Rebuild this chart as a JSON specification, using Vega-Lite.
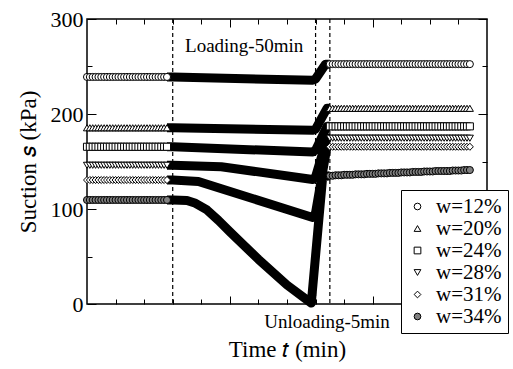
{
"$schema": "https://vega.github.io/schema/vega-lite/v6.json",
"width": 400, "height": 285,
"autosize": {"type": "none"},
"padding": {"left": 87, "top": 19, "right": 26, "bottom": 65},
"background": "white",
"config": {
 "view": {"stroke": "black", "strokeWidth": 1.5},
 "font": "Liberation Serif",
 "axis": {"domain": false, "grid": false, "tickColor": "black", "tickWidth": 1, "labelColor": "black", "titleColor": "black", "titleFontWeight": "normal", "labelFontSize": 22, "titleFontSize": 23}
},
"datasets": {
 "rules": [{"t": 30}, {"t": 80}, {"t": 85}],
 "loading": [
  {"w":"w=12%","t":28,"s":239},{"w":"w=12%","t":30,"s":239},{"w":"w=12%","t":79,"s":235.5},{"w":"w=12%","t":80,"s":237},{"w":"w=12%","t":83.5,"s":252.5},{"w":"w=12%","t":85,"s":252.5},
  {"w":"w=20%","t":28,"s":185.5},{"w":"w=20%","t":30,"s":185.5},{"w":"w=20%","t":79,"s":183},{"w":"w=20%","t":80,"s":184},{"w":"w=20%","t":84,"s":206},{"w":"w=20%","t":85,"s":206},
  {"w":"w=24%","t":28,"s":165.5},{"w":"w=24%","t":30,"s":165.5},{"w":"w=24%","t":79,"s":160},{"w":"w=24%","t":80,"s":162},{"w":"w=24%","t":84,"s":187},{"w":"w=24%","t":85,"s":187},
  {"w":"w=28%","t":28,"s":146},{"w":"w=28%","t":30,"s":146},{"w":"w=28%","t":47,"s":144.5},{"w":"w=28%","t":79,"s":131},{"w":"w=28%","t":80,"s":134},{"w":"w=28%","t":84,"s":174.5},{"w":"w=28%","t":85,"s":174.5},
  {"w":"w=31%","t":28,"s":130.5},{"w":"w=31%","t":30,"s":130.5},{"w":"w=31%","t":39,"s":129},{"w":"w=31%","t":79,"s":91},{"w":"w=31%","t":80,"s":96},{"w":"w=31%","t":84,"s":165.5},{"w":"w=31%","t":85,"s":165.5},
  {"w":"w=34%","t":28,"s":109.5},{"w":"w=34%","t":30,"s":109.5},{"w":"w=34%","t":35,"s":109},{"w":"w=34%","t":38,"s":106},{"w":"w=34%","t":42,"s":99},{"w":"w=34%","t":46,"s":88},{"w":"w=34%","t":50,"s":76},{"w":"w=34%","t":60,"s":47},{"w":"w=34%","t":70,"s":20},{"w":"w=34%","t":78.5,"s":1},{"w":"w=34%","t":82.5,"s":134},{"w":"w=34%","t":85,"s":135}
 ],
 "markers": [
  {"w":"w=12%","t":0,"s":239},{"w":"w=12%","t":1,"s":239},{"w":"w=12%","t":2,"s":239},{"w":"w=12%","t":3,"s":239},{"w":"w=12%","t":4,"s":239},{"w":"w=12%","t":5,"s":239},{"w":"w=12%","t":6,"s":239},{"w":"w=12%","t":7,"s":239},{"w":"w=12%","t":8,"s":239},{"w":"w=12%","t":9,"s":239},{"w":"w=12%","t":10,"s":239},{"w":"w=12%","t":11,"s":239},{"w":"w=12%","t":12,"s":239},{"w":"w=12%","t":13,"s":239},{"w":"w=12%","t":14,"s":239},{"w":"w=12%","t":15,"s":239},{"w":"w=12%","t":16,"s":239},{"w":"w=12%","t":17,"s":239},{"w":"w=12%","t":18,"s":239},{"w":"w=12%","t":19,"s":239},{"w":"w=12%","t":20,"s":239},{"w":"w=12%","t":21,"s":239},{"w":"w=12%","t":22,"s":239},{"w":"w=12%","t":23,"s":239},{"w":"w=12%","t":24,"s":239},{"w":"w=12%","t":25,"s":239},{"w":"w=12%","t":26,"s":239},{"w":"w=12%","t":27,"s":239},{"w":"w=12%","t":28,"s":239},
  {"w":"w=20%","t":0,"s":185.5},{"w":"w=20%","t":1,"s":185.5},{"w":"w=20%","t":2,"s":185.5},{"w":"w=20%","t":3,"s":185.5},{"w":"w=20%","t":4,"s":185.5},{"w":"w=20%","t":5,"s":185.5},{"w":"w=20%","t":6,"s":185.5},{"w":"w=20%","t":7,"s":185.5},{"w":"w=20%","t":8,"s":185.5},{"w":"w=20%","t":9,"s":185.5},{"w":"w=20%","t":10,"s":185.5},{"w":"w=20%","t":11,"s":185.5},{"w":"w=20%","t":12,"s":185.5},{"w":"w=20%","t":13,"s":185.5},{"w":"w=20%","t":14,"s":185.5},{"w":"w=20%","t":15,"s":185.5},{"w":"w=20%","t":16,"s":185.5},{"w":"w=20%","t":17,"s":185.5},{"w":"w=20%","t":18,"s":185.5},{"w":"w=20%","t":19,"s":185.5},{"w":"w=20%","t":20,"s":185.5},{"w":"w=20%","t":21,"s":185.5},{"w":"w=20%","t":22,"s":185.5},{"w":"w=20%","t":23,"s":185.5},{"w":"w=20%","t":24,"s":185.5},{"w":"w=20%","t":25,"s":185.5},{"w":"w=20%","t":26,"s":185.5},{"w":"w=20%","t":27,"s":185.5},{"w":"w=20%","t":28,"s":185.5},
  {"w":"w=24%","t":0,"s":165.5},{"w":"w=24%","t":1,"s":165.5},{"w":"w=24%","t":2,"s":165.5},{"w":"w=24%","t":3,"s":165.5},{"w":"w=24%","t":4,"s":165.5},{"w":"w=24%","t":5,"s":165.5},{"w":"w=24%","t":6,"s":165.5},{"w":"w=24%","t":7,"s":165.5},{"w":"w=24%","t":8,"s":165.5},{"w":"w=24%","t":9,"s":165.5},{"w":"w=24%","t":10,"s":165.5},{"w":"w=24%","t":11,"s":165.5},{"w":"w=24%","t":12,"s":165.5},{"w":"w=24%","t":13,"s":165.5},{"w":"w=24%","t":14,"s":165.5},{"w":"w=24%","t":15,"s":165.5},{"w":"w=24%","t":16,"s":165.5},{"w":"w=24%","t":17,"s":165.5},{"w":"w=24%","t":18,"s":165.5},{"w":"w=24%","t":19,"s":165.5},{"w":"w=24%","t":20,"s":165.5},{"w":"w=24%","t":21,"s":165.5},{"w":"w=24%","t":22,"s":165.5},{"w":"w=24%","t":23,"s":165.5},{"w":"w=24%","t":24,"s":165.5},{"w":"w=24%","t":25,"s":165.5},{"w":"w=24%","t":26,"s":165.5},{"w":"w=24%","t":27,"s":165.5},{"w":"w=24%","t":28,"s":165.5},
  {"w":"w=28%","t":0,"s":146},{"w":"w=28%","t":1,"s":146},{"w":"w=28%","t":2,"s":146},{"w":"w=28%","t":3,"s":146},{"w":"w=28%","t":4,"s":146},{"w":"w=28%","t":5,"s":146},{"w":"w=28%","t":6,"s":146},{"w":"w=28%","t":7,"s":146},{"w":"w=28%","t":8,"s":146},{"w":"w=28%","t":9,"s":146},{"w":"w=28%","t":10,"s":146},{"w":"w=28%","t":11,"s":146},{"w":"w=28%","t":12,"s":146},{"w":"w=28%","t":13,"s":146},{"w":"w=28%","t":14,"s":146},{"w":"w=28%","t":15,"s":146},{"w":"w=28%","t":16,"s":146},{"w":"w=28%","t":17,"s":146},{"w":"w=28%","t":18,"s":146},{"w":"w=28%","t":19,"s":146},{"w":"w=28%","t":20,"s":146},{"w":"w=28%","t":21,"s":146},{"w":"w=28%","t":22,"s":146},{"w":"w=28%","t":23,"s":146},{"w":"w=28%","t":24,"s":146},{"w":"w=28%","t":25,"s":146},{"w":"w=28%","t":26,"s":146},{"w":"w=28%","t":27,"s":146},{"w":"w=28%","t":28,"s":146},
  {"w":"w=31%","t":0,"s":130.5},{"w":"w=31%","t":1,"s":130.5},{"w":"w=31%","t":2,"s":130.5},{"w":"w=31%","t":3,"s":130.5},{"w":"w=31%","t":4,"s":130.5},{"w":"w=31%","t":5,"s":130.5},{"w":"w=31%","t":6,"s":130.5},{"w":"w=31%","t":7,"s":130.5},{"w":"w=31%","t":8,"s":130.5},{"w":"w=31%","t":9,"s":130.5},{"w":"w=31%","t":10,"s":130.5},{"w":"w=31%","t":11,"s":130.5},{"w":"w=31%","t":12,"s":130.5},{"w":"w=31%","t":13,"s":130.5},{"w":"w=31%","t":14,"s":130.5},{"w":"w=31%","t":15,"s":130.5},{"w":"w=31%","t":16,"s":130.5},{"w":"w=31%","t":17,"s":130.5},{"w":"w=31%","t":18,"s":130.5},{"w":"w=31%","t":19,"s":130.5},{"w":"w=31%","t":20,"s":130.5},{"w":"w=31%","t":21,"s":130.5},{"w":"w=31%","t":22,"s":130.5},{"w":"w=31%","t":23,"s":130.5},{"w":"w=31%","t":24,"s":130.5},{"w":"w=31%","t":25,"s":130.5},{"w":"w=31%","t":26,"s":130.5},{"w":"w=31%","t":27,"s":130.5},{"w":"w=31%","t":28,"s":130.5},
  {"w":"w=34%","t":0,"s":109.5},{"w":"w=34%","t":1,"s":109.5},{"w":"w=34%","t":2,"s":109.5},{"w":"w=34%","t":3,"s":109.5},{"w":"w=34%","t":4,"s":109.5},{"w":"w=34%","t":5,"s":109.5},{"w":"w=34%","t":6,"s":109.5},{"w":"w=34%","t":7,"s":109.5},{"w":"w=34%","t":8,"s":109.5},{"w":"w=34%","t":9,"s":109.5},{"w":"w=34%","t":10,"s":109.5},{"w":"w=34%","t":11,"s":109.5},{"w":"w=34%","t":12,"s":109.5},{"w":"w=34%","t":13,"s":109.5},{"w":"w=34%","t":14,"s":109.5},{"w":"w=34%","t":15,"s":109.5},{"w":"w=34%","t":16,"s":109.5},{"w":"w=34%","t":17,"s":109.5},{"w":"w=34%","t":18,"s":109.5},{"w":"w=34%","t":19,"s":109.5},{"w":"w=34%","t":20,"s":109.5},{"w":"w=34%","t":21,"s":109.5},{"w":"w=34%","t":22,"s":109.5},{"w":"w=34%","t":23,"s":109.5},{"w":"w=34%","t":24,"s":109.5},{"w":"w=34%","t":25,"s":109.5},{"w":"w=34%","t":26,"s":109.5},{"w":"w=34%","t":27,"s":109.5},{"w":"w=34%","t":28,"s":109.5},
  {"w":"w=12%","t":85,"s":252.5},{"w":"w=12%","t":86,"s":252.5},{"w":"w=12%","t":87,"s":252.5},{"w":"w=12%","t":88,"s":252.5},{"w":"w=12%","t":89,"s":252.5},{"w":"w=12%","t":90,"s":252.5},{"w":"w=12%","t":91,"s":252.5},{"w":"w=12%","t":92,"s":252.5},{"w":"w=12%","t":93,"s":252.5},{"w":"w=12%","t":94,"s":252.5},{"w":"w=12%","t":95,"s":252.5},{"w":"w=12%","t":96,"s":252.5},{"w":"w=12%","t":97,"s":252.5},{"w":"w=12%","t":98,"s":252.5},{"w":"w=12%","t":99,"s":252.5},{"w":"w=12%","t":100,"s":252.5},{"w":"w=12%","t":101,"s":252.5},{"w":"w=12%","t":102,"s":252.5},{"w":"w=12%","t":103,"s":252.5},{"w":"w=12%","t":104,"s":252.5},{"w":"w=12%","t":105,"s":252.5},{"w":"w=12%","t":106,"s":252.5},{"w":"w=12%","t":107,"s":252.5},{"w":"w=12%","t":108,"s":252.5},{"w":"w=12%","t":109,"s":252.5},{"w":"w=12%","t":110,"s":252.5},{"w":"w=12%","t":111,"s":252.5},{"w":"w=12%","t":112,"s":252.5},{"w":"w=12%","t":113,"s":252.5},{"w":"w=12%","t":114,"s":252.5},{"w":"w=12%","t":115,"s":252.5},{"w":"w=12%","t":116,"s":252.5},{"w":"w=12%","t":117,"s":252.5},{"w":"w=12%","t":118,"s":252.5},{"w":"w=12%","t":119,"s":252.5},{"w":"w=12%","t":120,"s":252.5},{"w":"w=12%","t":121,"s":252.5},{"w":"w=12%","t":122,"s":252.5},{"w":"w=12%","t":123,"s":252.5},{"w":"w=12%","t":124,"s":252.5},{"w":"w=12%","t":125,"s":252.5},{"w":"w=12%","t":126,"s":252.5},{"w":"w=12%","t":127,"s":252.5},{"w":"w=12%","t":128,"s":252.5},{"w":"w=12%","t":129,"s":252.5},{"w":"w=12%","t":130,"s":252.5},{"w":"w=12%","t":131,"s":252.5},{"w":"w=12%","t":132,"s":252.5},{"w":"w=12%","t":133,"s":252.5},{"w":"w=12%","t":134,"s":252.5},
  {"w":"w=20%","t":85,"s":206},{"w":"w=20%","t":86,"s":206},{"w":"w=20%","t":87,"s":206},{"w":"w=20%","t":88,"s":206},{"w":"w=20%","t":89,"s":206},{"w":"w=20%","t":90,"s":206},{"w":"w=20%","t":91,"s":206},{"w":"w=20%","t":92,"s":206},{"w":"w=20%","t":93,"s":206},{"w":"w=20%","t":94,"s":206},{"w":"w=20%","t":95,"s":206},{"w":"w=20%","t":96,"s":206},{"w":"w=20%","t":97,"s":206},{"w":"w=20%","t":98,"s":206},{"w":"w=20%","t":99,"s":206},{"w":"w=20%","t":100,"s":206},{"w":"w=20%","t":101,"s":206},{"w":"w=20%","t":102,"s":206},{"w":"w=20%","t":103,"s":206},{"w":"w=20%","t":104,"s":206},{"w":"w=20%","t":105,"s":206},{"w":"w=20%","t":106,"s":206},{"w":"w=20%","t":107,"s":206},{"w":"w=20%","t":108,"s":206},{"w":"w=20%","t":109,"s":206},{"w":"w=20%","t":110,"s":206},{"w":"w=20%","t":111,"s":206},{"w":"w=20%","t":112,"s":206},{"w":"w=20%","t":113,"s":206},{"w":"w=20%","t":114,"s":206},{"w":"w=20%","t":115,"s":206},{"w":"w=20%","t":116,"s":206},{"w":"w=20%","t":117,"s":206},{"w":"w=20%","t":118,"s":206},{"w":"w=20%","t":119,"s":206},{"w":"w=20%","t":120,"s":206},{"w":"w=20%","t":121,"s":206},{"w":"w=20%","t":122,"s":206},{"w":"w=20%","t":123,"s":206},{"w":"w=20%","t":124,"s":206},{"w":"w=20%","t":125,"s":206},{"w":"w=20%","t":126,"s":206},{"w":"w=20%","t":127,"s":206},{"w":"w=20%","t":128,"s":206},{"w":"w=20%","t":129,"s":206},{"w":"w=20%","t":130,"s":206},{"w":"w=20%","t":131,"s":206},{"w":"w=20%","t":132,"s":206},{"w":"w=20%","t":133,"s":206},{"w":"w=20%","t":134,"s":206},
  {"w":"w=24%","t":85,"s":187},{"w":"w=24%","t":86,"s":187},{"w":"w=24%","t":87,"s":187},{"w":"w=24%","t":88,"s":187},{"w":"w=24%","t":89,"s":187},{"w":"w=24%","t":90,"s":187},{"w":"w=24%","t":91,"s":187},{"w":"w=24%","t":92,"s":187},{"w":"w=24%","t":93,"s":187},{"w":"w=24%","t":94,"s":187},{"w":"w=24%","t":95,"s":187},{"w":"w=24%","t":96,"s":187},{"w":"w=24%","t":97,"s":187},{"w":"w=24%","t":98,"s":187},{"w":"w=24%","t":99,"s":187},{"w":"w=24%","t":100,"s":187},{"w":"w=24%","t":101,"s":187},{"w":"w=24%","t":102,"s":187},{"w":"w=24%","t":103,"s":187},{"w":"w=24%","t":104,"s":187},{"w":"w=24%","t":105,"s":187},{"w":"w=24%","t":106,"s":187},{"w":"w=24%","t":107,"s":187},{"w":"w=24%","t":108,"s":187},{"w":"w=24%","t":109,"s":187},{"w":"w=24%","t":110,"s":187},{"w":"w=24%","t":111,"s":187},{"w":"w=24%","t":112,"s":187},{"w":"w=24%","t":113,"s":187},{"w":"w=24%","t":114,"s":187},{"w":"w=24%","t":115,"s":187},{"w":"w=24%","t":116,"s":187},{"w":"w=24%","t":117,"s":187},{"w":"w=24%","t":118,"s":187},{"w":"w=24%","t":119,"s":187},{"w":"w=24%","t":120,"s":187},{"w":"w=24%","t":121,"s":187},{"w":"w=24%","t":122,"s":187},{"w":"w=24%","t":123,"s":187},{"w":"w=24%","t":124,"s":187},{"w":"w=24%","t":125,"s":187},{"w":"w=24%","t":126,"s":187},{"w":"w=24%","t":127,"s":187},{"w":"w=24%","t":128,"s":187},{"w":"w=24%","t":129,"s":187},{"w":"w=24%","t":130,"s":187},{"w":"w=24%","t":131,"s":187},{"w":"w=24%","t":132,"s":187},{"w":"w=24%","t":133,"s":187},{"w":"w=24%","t":134,"s":187},
  {"w":"w=28%","t":85,"s":174.5},{"w":"w=28%","t":86,"s":174.5},{"w":"w=28%","t":87,"s":174.5},{"w":"w=28%","t":88,"s":174.5},{"w":"w=28%","t":89,"s":174.5},{"w":"w=28%","t":90,"s":174.5},{"w":"w=28%","t":91,"s":174.5},{"w":"w=28%","t":92,"s":174.5},{"w":"w=28%","t":93,"s":174.5},{"w":"w=28%","t":94,"s":174.5},{"w":"w=28%","t":95,"s":174.5},{"w":"w=28%","t":96,"s":174.5},{"w":"w=28%","t":97,"s":174.5},{"w":"w=28%","t":98,"s":174.5},{"w":"w=28%","t":99,"s":174.5},{"w":"w=28%","t":100,"s":174.5},{"w":"w=28%","t":101,"s":174.5},{"w":"w=28%","t":102,"s":174.5},{"w":"w=28%","t":103,"s":174.5},{"w":"w=28%","t":104,"s":174.5},{"w":"w=28%","t":105,"s":174.5},{"w":"w=28%","t":106,"s":174.5},{"w":"w=28%","t":107,"s":174.5},{"w":"w=28%","t":108,"s":174.5},{"w":"w=28%","t":109,"s":174.5},{"w":"w=28%","t":110,"s":174.5},{"w":"w=28%","t":111,"s":174.5},{"w":"w=28%","t":112,"s":174.5},{"w":"w=28%","t":113,"s":174.5},{"w":"w=28%","t":114,"s":174.5},{"w":"w=28%","t":115,"s":174.5},{"w":"w=28%","t":116,"s":174.5},{"w":"w=28%","t":117,"s":174.5},{"w":"w=28%","t":118,"s":174.5},{"w":"w=28%","t":119,"s":174.5},{"w":"w=28%","t":120,"s":174.5},{"w":"w=28%","t":121,"s":174.5},{"w":"w=28%","t":122,"s":174.5},{"w":"w=28%","t":123,"s":174.5},{"w":"w=28%","t":124,"s":174.5},{"w":"w=28%","t":125,"s":174.5},{"w":"w=28%","t":126,"s":174.5},{"w":"w=28%","t":127,"s":174.5},{"w":"w=28%","t":128,"s":174.5},{"w":"w=28%","t":129,"s":174.5},{"w":"w=28%","t":130,"s":174.5},{"w":"w=28%","t":131,"s":174.5},{"w":"w=28%","t":132,"s":174.5},{"w":"w=28%","t":133,"s":174.5},{"w":"w=28%","t":134,"s":174.5},
  {"w":"w=31%","t":85,"s":165.5},{"w":"w=31%","t":86,"s":165.5},{"w":"w=31%","t":87,"s":165.5},{"w":"w=31%","t":88,"s":165.5},{"w":"w=31%","t":89,"s":165.5},{"w":"w=31%","t":90,"s":165.5},{"w":"w=31%","t":91,"s":165.5},{"w":"w=31%","t":92,"s":165.5},{"w":"w=31%","t":93,"s":165.5},{"w":"w=31%","t":94,"s":165.5},{"w":"w=31%","t":95,"s":165.5},{"w":"w=31%","t":96,"s":165.5},{"w":"w=31%","t":97,"s":165.5},{"w":"w=31%","t":98,"s":165.5},{"w":"w=31%","t":99,"s":165.5},{"w":"w=31%","t":100,"s":165.5},{"w":"w=31%","t":101,"s":165.5},{"w":"w=31%","t":102,"s":165.5},{"w":"w=31%","t":103,"s":165.5},{"w":"w=31%","t":104,"s":165.5},{"w":"w=31%","t":105,"s":165.5},{"w":"w=31%","t":106,"s":165.5},{"w":"w=31%","t":107,"s":165.5},{"w":"w=31%","t":108,"s":165.5},{"w":"w=31%","t":109,"s":165.5},{"w":"w=31%","t":110,"s":165.5},{"w":"w=31%","t":111,"s":165.5},{"w":"w=31%","t":112,"s":165.5},{"w":"w=31%","t":113,"s":165.5},{"w":"w=31%","t":114,"s":165.5},{"w":"w=31%","t":115,"s":165.5},{"w":"w=31%","t":116,"s":165.5},{"w":"w=31%","t":117,"s":165.5},{"w":"w=31%","t":118,"s":165.5},{"w":"w=31%","t":119,"s":165.5},{"w":"w=31%","t":120,"s":165.5},{"w":"w=31%","t":121,"s":165.5},{"w":"w=31%","t":122,"s":165.5},{"w":"w=31%","t":123,"s":165.5},{"w":"w=31%","t":124,"s":165.5},{"w":"w=31%","t":125,"s":165.5},{"w":"w=31%","t":126,"s":165.5},{"w":"w=31%","t":127,"s":165.5},{"w":"w=31%","t":128,"s":165.5},{"w":"w=31%","t":129,"s":165.5},{"w":"w=31%","t":130,"s":165.5},{"w":"w=31%","t":131,"s":165.5},{"w":"w=31%","t":132,"s":165.5},{"w":"w=31%","t":133,"s":165.5},{"w":"w=31%","t":134,"s":165.5},
  {"w":"w=34%","t":85,"s":135},{"w":"w=34%","t":86,"s":135},{"w":"w=34%","t":87,"s":135.5},{"w":"w=34%","t":88,"s":135.5},{"w":"w=34%","t":89,"s":135.5},{"w":"w=34%","t":90,"s":136},{"w":"w=34%","t":91,"s":136},{"w":"w=34%","t":92,"s":136},{"w":"w=34%","t":93,"s":136},{"w":"w=34%","t":94,"s":136.5},{"w":"w=34%","t":95,"s":136.5},{"w":"w=34%","t":96,"s":136.5},{"w":"w=34%","t":97,"s":136.5},{"w":"w=34%","t":98,"s":137},{"w":"w=34%","t":99,"s":137},{"w":"w=34%","t":100,"s":137},{"w":"w=34%","t":101,"s":137},{"w":"w=34%","t":102,"s":137.5},{"w":"w=34%","t":103,"s":137.5},{"w":"w=34%","t":104,"s":137.5},{"w":"w=34%","t":105,"s":137.5},{"w":"w=34%","t":106,"s":138},{"w":"w=34%","t":107,"s":138},{"w":"w=34%","t":108,"s":138},{"w":"w=34%","t":109,"s":138},{"w":"w=34%","t":110,"s":138.5},{"w":"w=34%","t":111,"s":138.5},{"w":"w=34%","t":112,"s":138.5},{"w":"w=34%","t":113,"s":138.5},{"w":"w=34%","t":114,"s":139},{"w":"w=34%","t":115,"s":139},{"w":"w=34%","t":116,"s":139},{"w":"w=34%","t":117,"s":139},{"w":"w=34%","t":118,"s":139.5},{"w":"w=34%","t":119,"s":139.5},{"w":"w=34%","t":120,"s":139.5},{"w":"w=34%","t":121,"s":139.5},{"w":"w=34%","t":122,"s":140},{"w":"w=34%","t":123,"s":140},{"w":"w=34%","t":124,"s":140},{"w":"w=34%","t":125,"s":140},{"w":"w=34%","t":126,"s":140},{"w":"w=34%","t":127,"s":140},{"w":"w=34%","t":128,"s":140.5},{"w":"w=34%","t":129,"s":140.5},{"w":"w=34%","t":130,"s":140.5},{"w":"w=34%","t":131,"s":140.5},{"w":"w=34%","t":132,"s":141},{"w":"w=34%","t":133,"s":141},{"w":"w=34%","t":134,"s":141}
 ]
},
"resolve": {"axis": {"x": "independent", "y": "independent"}},
"layer": [
 {
  "data": {"name": "rules"},
  "mark": {"type": "rule", "strokeDash": [4, 3], "strokeWidth": 1.2, "color": "black"},
  "encoding": {
   "x": {"field": "t", "type": "quantitative", "scale": {"domain": [0, 140], "nice": false, "zero": false}, "axis": null}
  }
 },
 {
  "data": {"name": "loading"},
  "mark": {"type": "line", "strokeWidth": 9, "color": "black", "strokeJoin": "round"},
  "encoding": {
   "x": {"field": "t", "type": "quantitative", "scale": {"domain": [0, 140], "nice": false, "zero": false}, "axis": {"orient": "bottom", "values": [10, 20, 30, 40, 60, 70, 80, 90, 110, 120, 130], "tickSize": -5, "labels": false, "title": null}},
   "y": {"field": "s", "type": "quantitative", "scale": {"domain": [0, 300], "nice": false, "zero": false}, "axis": {"orient": "left", "values": [50, 150, 250], "tickSize": -5, "labels": false, "title": null}},
   "detail": {"field": "w"}
  }
 },
 {
  "data": {"name": "markers"},
  "mark": {"type": "point", "filled": true, "stroke": "black", "strokeWidth": 1, "size": 50, "opacity": 1},
  "encoding": {
   "x": {"field": "t", "type": "quantitative", "scale": {"domain": [0, 140], "nice": false, "zero": false}, "axis": {"orient": "bottom", "values": [50, 100], "tickSize": -8, "labels": false, "title": "Time 𝑡 (min)", "titlePadding": 34, "titleFont": {"expr": "'Liberation Serif'"}, "titleFontSize": 23, "titleFontWeight": "normal"}},
   "y": {"field": "s", "type": "quantitative", "scale": {"domain": [0, 300], "nice": false, "zero": false}, "axis": {"orient": "left", "values": [0, 100, 200, 300], "tickSize": -9, "labelPadding": 13, "labelFont": {"expr": "'Liberation Serif'"}, "labelFontSize": 22, "title": "Suction 𝑠 (kPa)", "titlePadding": 10, "titleFont": {"expr": "'Liberation Serif'"}, "titleFontSize": 23, "titleFontWeight": "normal"}},
   "shape": {"field": "w", "type": "nominal", "scale": {"domain": ["w=12%", "w=20%", "w=24%", "w=28%", "w=31%", "w=34%"], "range": ["circle", "triangle-up", "square", "triangle-down", "diamond", "circle"]},
    "legend": {"title": null, "orient": "none", "legendX": 314, "legendY": 171, "padding": 6, "strokeColor": "black", "fillColor": "white", "labelFont": "Liberation Serif", "labelFontSize": 21, "labelColor": "black", "symbolSize": 45, "rowPadding": 0, "labelOffset": 8, "symbolStrokeColor": "black", "symbolStrokeWidth": 1}},
   "fill": {"field": "w", "type": "nominal", "scale": {"domain": ["w=12%", "w=20%", "w=24%", "w=28%", "w=31%", "w=34%"], "range": ["white", "white", "white", "white", "white", "#808080"]},
    "legend": {"title": null, "orient": "none", "legendX": 314, "legendY": 171, "padding": 6, "strokeColor": "black", "fillColor": "white", "labelFont": "Liberation Serif", "labelFontSize": 21, "labelColor": "black", "symbolSize": 45, "rowPadding": 0, "labelOffset": 8, "symbolStrokeColor": "black", "symbolStrokeWidth": 1}},
   "stroke": {"field": "w", "type": "nominal", "scale": {"domain": ["w=12%", "w=20%", "w=24%", "w=28%", "w=31%", "w=34%"], "range": ["black", "black", "black", "black", "black", "black"]},
    "legend": {"title": null, "orient": "none", "legendX": 314, "legendY": 171, "padding": 6, "strokeColor": "black", "fillColor": "white", "labelFont": "Liberation Serif", "labelFontSize": 21, "labelColor": "black", "symbolSize": 45, "rowPadding": 0, "labelOffset": 8, "symbolStrokeColor": "black", "symbolStrokeWidth": 1}}
  }
 },
 {
  "data": {"values": [{"t": 55, "s": 272, "label": "Loading-50min"}]},
  "mark": {"type": "text", "fontSize": 19, "font": "Liberation Serif", "color": "black"},
  "encoding": {
   "x": {"field": "t", "type": "quantitative", "scale": {"domain": [0, 140], "nice": false, "zero": false}, "axis": {"orient": "top", "values": [50, 100], "tickSize": -8, "labels": false, "title": null}},
   "y": {"field": "s", "type": "quantitative", "scale": {"domain": [0, 300], "nice": false, "zero": false}, "axis": {"orient": "right", "values": [0, 100, 200, 300], "tickSize": -9, "labels": false, "title": null}},
   "text": {"field": "label"}
  }
 },
 {
  "data": {"values": [{"t": 84, "s": -19, "label": "Unloading-5min"}]},
  "mark": {"type": "text", "fontSize": 19, "font": "Liberation Serif", "color": "black"},
  "encoding": {
   "x": {"field": "t", "type": "quantitative", "scale": {"domain": [0, 140], "nice": false, "zero": false}, "axis": {"orient": "top", "values": [10, 20, 30, 40, 60, 70, 80, 90, 110, 120, 130], "tickSize": -5, "labels": false, "title": null}},
   "y": {"field": "s", "type": "quantitative", "scale": {"domain": [0, 300], "nice": false, "zero": false}, "axis": {"orient": "right", "values": [50, 150, 250], "tickSize": -5, "labels": false, "title": null}},
   "text": {"field": "label"}
  }
 }
]
}
